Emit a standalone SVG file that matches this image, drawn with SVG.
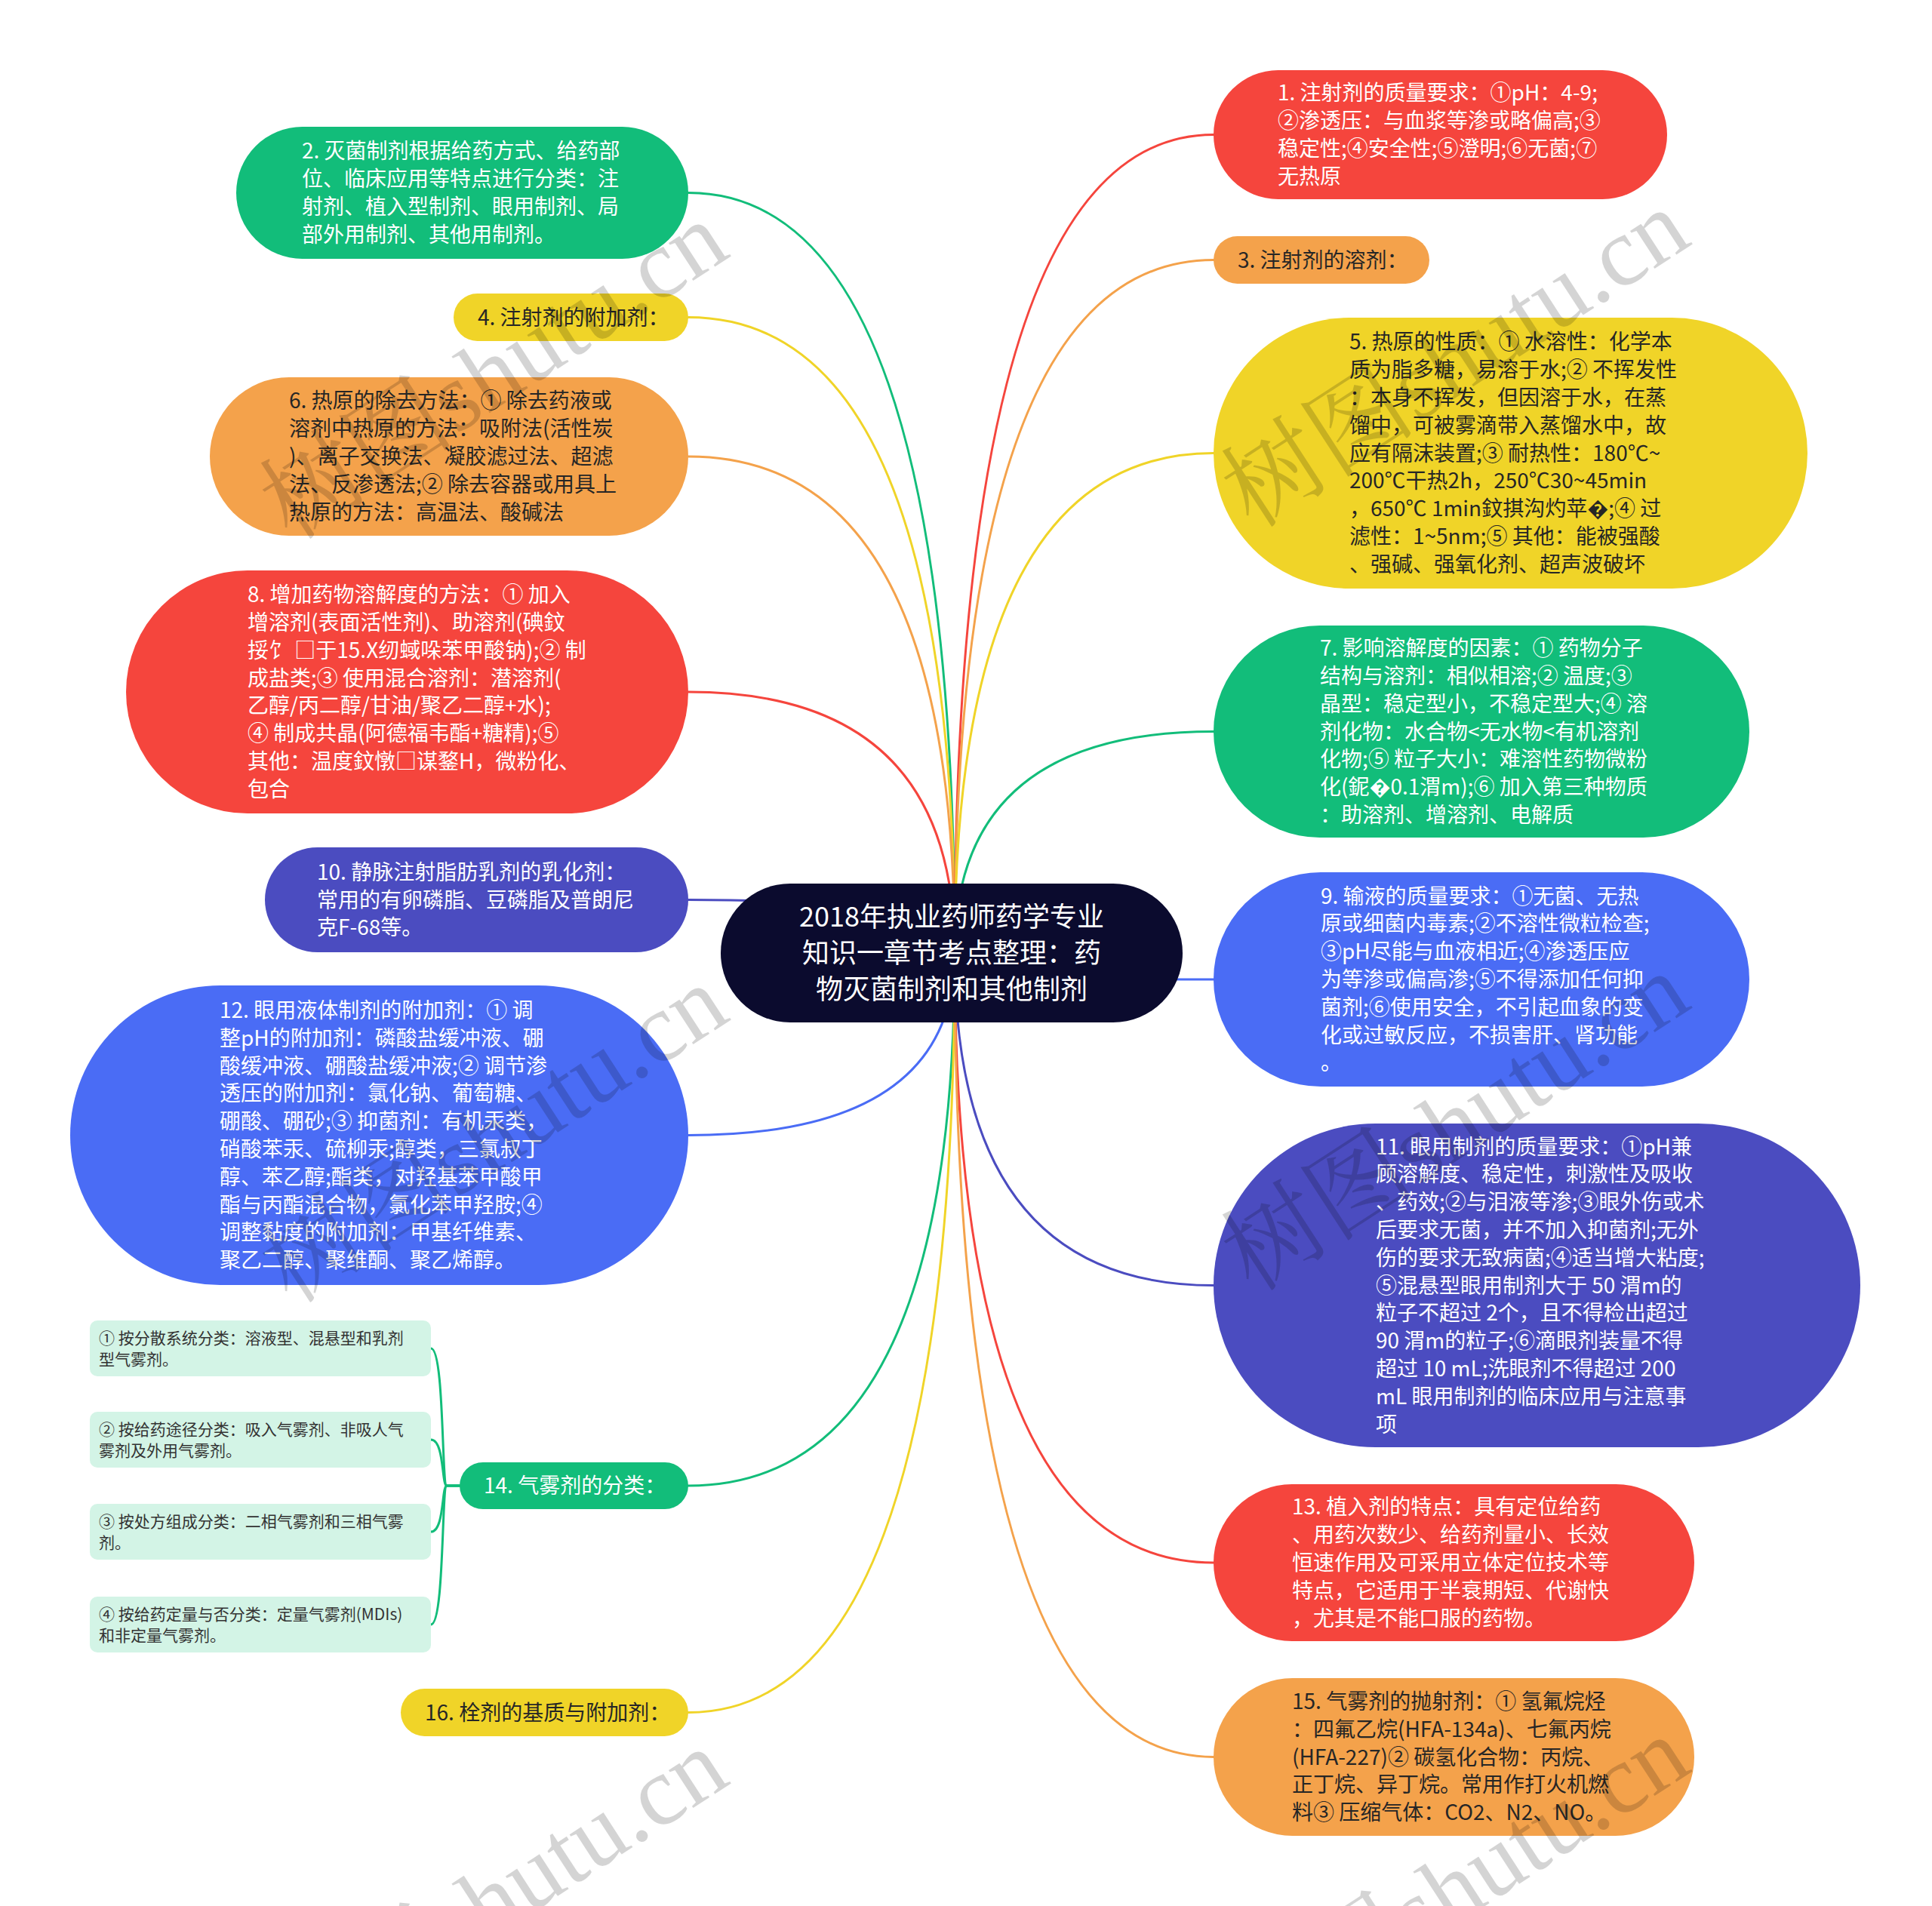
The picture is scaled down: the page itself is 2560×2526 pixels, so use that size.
<svg xmlns="http://www.w3.org/2000/svg" width="2560" height="2526" viewBox="0 0 2560 2526">
<style>
.conn path{fill:none;stroke-width:3;stroke-linecap:round}
.t{font-family:"Noto Sans CJK SC","Noto Sans",sans-serif;font-size:28px}
.c{font-family:"Noto Sans CJK SC","Noto Sans",sans-serif;font-size:36px;fill:#fff;text-anchor:middle}
.s{font-family:"Noto Sans CJK SC","Noto Sans",sans-serif;font-size:21px;fill:#333}
.w{fill:#fff}
.d{fill:#262626}
.red{fill:#f5453d}.org{fill:#f4a24b}.yel{fill:#f0d428}.grn{fill:#12bd7a}.blu{fill:#4a6cf5}.ind{fill:#4b4cc0}
.mint{fill:#d3f4e6}
.wm{font-family:"Liberation Serif","Noto Serif CJK SC","Noto Sans CJK SC",serif;font-size:130px;fill:#000;fill-opacity:0.17}
</style>
<rect width="2560" height="2526" fill="#fff"/>
<g id="connectors" class="conn">
<path d="M1265 1263 Q1265 255.5 912 255.5" stroke="#12bd7a"/>
<path d="M1265 1263 Q1265 420.5 912 420.5" stroke="#f0d428"/>
<path d="M1265 1263 Q1265 605 912 605" stroke="#f4a24b"/>
<path d="M1265 1263 Q1265 917 912 917" stroke="#f5453d"/>
<path d="M1265 1263 Q1265 1192.5 912 1192.5" stroke="#4b4cc0"/>
<path d="M1265 1263 Q1265 1504.5 912 1504.5" stroke="#4a6cf5"/>
<path d="M1265 1263 Q1265 1969 912 1969" stroke="#12bd7a"/>
<path d="M1265 1263 Q1265 2269.5 912 2269.5" stroke="#f0d428"/>
<path d="M1265 1263 Q1265 178.5 1608 178.5" stroke="#f5453d"/>
<path d="M1265 1263 Q1265 344.5 1608 344.5" stroke="#f4a24b"/>
<path d="M1265 1263 Q1265 600.5 1608 600.5" stroke="#f0d428"/>
<path d="M1265 1263 Q1265 969.5 1608 969.5" stroke="#12bd7a"/>
<path d="M1265 1263 Q1265 1298 1608 1298" stroke="#4a6cf5"/>
<path d="M1265 1263 Q1265 1703.5 1608 1703.5" stroke="#4b4cc0"/>
<path d="M1265 1263 Q1265 2071 1608 2071" stroke="#f5453d"/>
<path d="M1265 1263 Q1265 2328.5 1608 2328.5" stroke="#f4a24b"/>
<path d="M609 1969 H592 C585 1969 589 1787 571 1787" stroke="#12bd7a"/>
<path d="M609 1969 H592 C585 1969 589 1908 571 1908" stroke="#12bd7a"/>
<path d="M609 1969 H592 C585 1969 589 2030 571 2030" stroke="#12bd7a"/>
<path d="M609 1969 H592 C585 1969 589 2153 571 2153" stroke="#12bd7a"/>
</g>
<g id="center">
<rect x="955" y="1171" width="612" height="184" rx="92" fill="#0b0b2e"/>
<text class="c" x="1261" y="1228"><tspan x="1261">2018年执业药师药学专业</tspan><tspan x="1261" dy="48">知识一章节考点整理：药</tspan><tspan x="1261" dy="48">物灭菌制剂和其他制剂</tspan></text>
</g>
<g id="n1">
<rect class="red" x="1608" y="93" width="601" height="171" rx="85.5"/>
<text class="t w" x="1693" y="133.3"><tspan x="1693">1. 注射剂的质量要求：①pH：4-9;</tspan><tspan x="1693" dy="36.8">②渗透压：与血浆等渗或略偏高;③</tspan><tspan x="1693" dy="36.8">稳定性;④安全性;⑤澄明;⑥无菌;⑦</tspan><tspan x="1693" dy="36.8">无热原</tspan></text>
</g>
<g id="n2">
<rect class="grn" x="313" y="168" width="599" height="175" rx="87.5"/>
<text class="t w" x="400" y="210.3"><tspan x="400">2. 灭菌制剂根据给药方式、给药部</tspan><tspan x="400" dy="36.8">位、临床应用等特点进行分类：注</tspan><tspan x="400" dy="36.8">射剂、植入型制剂、眼用制剂、局</tspan><tspan x="400" dy="36.8">部外用制剂、其他用制剂。</tspan></text>
</g>
<g id="n3">
<rect class="org" x="1608" y="313" width="286" height="63" rx="31.5"/>
<text class="t d" x="1640" y="354.5">3. 注射剂的溶剂：</text>
</g>
<g id="n4">
<rect class="yel" x="601" y="389" width="311" height="63" rx="31.5"/>
<text class="t d" x="633" y="430.5">4. 注射剂的附加剂：</text>
</g>
<g id="n5">
<rect class="yel" x="1608" y="421" width="787" height="359" rx="179.5"/>
<text class="t d" x="1788" y="463.3"><tspan x="1788">5. 热原的性质：① 水溶性：化学本</tspan><tspan x="1788" dy="36.8">质为脂多糖，易溶于水;② 不挥发性</tspan><tspan x="1788" dy="36.8">：本身不挥发，但因溶于水，在蒸</tspan><tspan x="1788" dy="36.8">馏中，可被雾滴带入蒸馏水中，故</tspan><tspan x="1788" dy="36.8">应有隔沫装置;③ 耐热性：180℃~</tspan><tspan x="1788" dy="36.8">200℃干热2h，250℃30~45min</tspan><tspan x="1788" dy="36.8">，650℃ 1min鈫掑沟灼苹�;④ 过</tspan><tspan x="1788" dy="36.8">滤性：1~5nm;⑤ 其他：能被强酸</tspan><tspan x="1788" dy="36.8">、强碱、强氧化剂、超声波破坏</tspan></text>
</g>
<g id="n6">
<rect class="org" x="278" y="500" width="634" height="210" rx="105"/>
<text class="t d" x="383" y="541.4"><tspan x="383">6. 热原的除去方法：① 除去药液或</tspan><tspan x="383" dy="36.8">溶剂中热原的方法：吸附法(活性炭</tspan><tspan x="383" dy="36.8">)、离子交换法、凝胶滤过法、超滤</tspan><tspan x="383" dy="36.8">法、反渗透法;② 除去容器或用具上</tspan><tspan x="383" dy="36.8">热原的方法：高温法、酸碱法</tspan></text>
</g>
<g id="n7">
<rect class="grn" x="1608" y="829" width="710" height="281" rx="140.5"/>
<text class="t w" x="1749" y="869.1"><tspan x="1749">7. 影响溶解度的因素：① 药物分子</tspan><tspan x="1749" dy="36.8">结构与溶剂：相似相溶;② 温度;③</tspan><tspan x="1749" dy="36.8">晶型：稳定型小，不稳定型大;④ 溶</tspan><tspan x="1749" dy="36.8">剂化物：水合物&lt;无水物&lt;有机溶剂</tspan><tspan x="1749" dy="36.8">化物;⑤ 粒子大小：难溶性药物微粉</tspan><tspan x="1749" dy="36.8">化(鈮�0.1渭m);⑥ 加入第三种物质</tspan><tspan x="1749" dy="36.8">：助溶剂、增溶剂、电解质</tspan></text>
</g>
<g id="n8">
<rect class="red" x="167" y="756" width="745" height="322" rx="161"/>
<text class="t w" x="328" y="798.2"><tspan x="328">8. 增加药物溶解度的方法：① 加入</tspan><tspan x="328" dy="36.8">增溶剂(表面活性剂)、助溶剂(碘鈫</tspan><tspan x="328" dy="36.8">挼饣 □于15.X纫蜮哚苯甲酸钠);② 制</tspan><tspan x="328" dy="36.8">成盐类;③ 使用混合溶剂：潜溶剂(</tspan><tspan x="328" dy="36.8">乙醇/丙二醇/甘油/聚乙二醇+水);</tspan><tspan x="328" dy="36.8">④ 制成共晶(阿德福韦酯+糖精);⑤</tspan><tspan x="328" dy="36.8">其他：温度鈫憞□谋鍪H，微粉化、</tspan><tspan x="328" dy="36.8">包合</tspan></text>
</g>
<g id="n9">
<rect class="blu" x="1608" y="1156" width="710" height="284" rx="142"/>
<text class="t w" x="1750" y="1197.6"><tspan x="1750">9. 输液的质量要求：①无菌、无热</tspan><tspan x="1750" dy="36.8">原或细菌内毒素;②不溶性微粒检查;</tspan><tspan x="1750" dy="36.8">③pH尽能与血液相近;④渗透压应</tspan><tspan x="1750" dy="36.8">为等渗或偏高渗;⑤不得添加任何抑</tspan><tspan x="1750" dy="36.8">菌剂;⑥使用安全，不引起血象的变</tspan><tspan x="1750" dy="36.8">化或过敏反应，不损害肝、肾功能</tspan><tspan x="1750" dy="36.8">。</tspan></text>
</g>
<g id="n10">
<rect class="ind" x="351" y="1123" width="561" height="139" rx="69.5"/>
<text class="t w" x="420" y="1165.7"><tspan x="420">10. 静脉注射脂肪乳剂的乳化剂：</tspan><tspan x="420" dy="36.8">常用的有卵磷脂、豆磷脂及普朗尼</tspan><tspan x="420" dy="36.8">克F-68等。</tspan></text>
</g>
<g id="n11">
<rect class="ind" x="1608" y="1489" width="857" height="429" rx="214.5"/>
<text class="t w" x="1823" y="1529.5"><tspan x="1823">11. 眼用制剂的质量要求：①pH兼</tspan><tspan x="1823" dy="36.8">顾溶解度、稳定性，刺激性及吸收</tspan><tspan x="1823" dy="36.8">、药效;②与泪液等渗;③眼外伤或术</tspan><tspan x="1823" dy="36.8">后要求无菌，并不加入抑菌剂;无外</tspan><tspan x="1823" dy="36.8">伤的要求无致病菌;④适当增大粘度;</tspan><tspan x="1823" dy="36.8">⑤混悬型眼用制剂大于 50 渭m的</tspan><tspan x="1823" dy="36.8">粒子不超过 2个，且不得检出超过</tspan><tspan x="1823" dy="36.8">90 渭m的粒子;⑥滴眼剂装量不得</tspan><tspan x="1823" dy="36.8">超过 10 mL;洗眼剂不得超过 200</tspan><tspan x="1823" dy="36.8">mL 眼用制剂的临床应用与注意事</tspan><tspan x="1823" dy="36.8">项</tspan></text>
</g>
<g id="n12">
<rect class="blu" x="93" y="1306" width="819" height="397" rx="198.5"/>
<text class="t w" x="291" y="1348.9"><tspan x="291">12. 眼用液体制剂的附加剂：① 调</tspan><tspan x="291" dy="36.8">整pH的附加剂：磷酸盐缓冲液、硼</tspan><tspan x="291" dy="36.8">酸缓冲液、硼酸盐缓冲液;② 调节渗</tspan><tspan x="291" dy="36.8">透压的附加剂：氯化钠、葡萄糖、</tspan><tspan x="291" dy="36.8">硼酸、硼砂;③ 抑菌剂：有机汞类，</tspan><tspan x="291" dy="36.8">硝酸苯汞、硫柳汞;醇类，三氯叔丁</tspan><tspan x="291" dy="36.8">醇、苯乙醇;酯类，对羟基苯甲酸甲</tspan><tspan x="291" dy="36.8">酯与丙酯混合物，氯化苯甲羟胺;④</tspan><tspan x="291" dy="36.8">调整黏度的附加剂：甲基纤维素、</tspan><tspan x="291" dy="36.8">聚乙二醇、聚维酮、聚乙烯醇。</tspan></text>
</g>
<g id="n13">
<rect class="red" x="1608" y="1967" width="637" height="208" rx="104"/>
<text class="t w" x="1712" y="2007.4"><tspan x="1712">13. 植入剂的特点：具有定位给药</tspan><tspan x="1712" dy="36.8">、用药次数少、给药剂量小、长效</tspan><tspan x="1712" dy="36.8">恒速作用及可采用立体定位技术等</tspan><tspan x="1712" dy="36.8">特点，它适用于半衰期短、代谢快</tspan><tspan x="1712" dy="36.8">，尤其是不能口服的药物。</tspan></text>
</g>
<g id="n14">
<rect class="grn" x="609" y="1938" width="303" height="62" rx="31"/>
<text class="t w" x="641" y="1979">14. 气雾剂的分类：</text>
</g>
<g id="n14-1">
<rect class="mint" x="119" y="1750" width="452" height="74" rx="10"/>
<text class="s" x="131" y="1780.5"><tspan x="131">① 按分散系统分类：溶液型、混悬型和乳剂</tspan><tspan x="131" dy="28">型气雾剂。</tspan></text>
</g>
<g id="n14-2">
<rect class="mint" x="119" y="1871" width="452" height="74" rx="10"/>
<text class="s" x="131" y="1901.5"><tspan x="131">② 按给药途径分类：吸入气雾剂、非吸人气</tspan><tspan x="131" dy="28">雾剂及外用气雾剂。</tspan></text>
</g>
<g id="n14-3">
<rect class="mint" x="119" y="1993" width="452" height="74" rx="10"/>
<text class="s" x="131" y="2023.5"><tspan x="131">③ 按处方组成分类：二相气雾剂和三相气雾</tspan><tspan x="131" dy="28">剂。</tspan></text>
</g>
<g id="n14-4">
<rect class="mint" x="119" y="2116" width="452" height="74" rx="10"/>
<text class="s" x="131" y="2146.5"><tspan x="131">④ 按给药定量与否分类：定量气雾剂(MDIs)</tspan><tspan x="131" dy="28">和非定量气雾剂。</tspan></text>
</g>
<g id="n15">
<rect class="org" x="1608" y="2224" width="637" height="209" rx="104.5"/>
<text class="t d" x="1712" y="2264.9"><tspan x="1712">15. 气雾剂的抛射剂：① 氢氟烷烃</tspan><tspan x="1712" dy="36.8">：四氟乙烷(HFA-134a)、七氟丙烷</tspan><tspan x="1712" dy="36.8">(HFA-227)② 碳氢化合物：丙烷、</tspan><tspan x="1712" dy="36.8">正丁烷、异丁烷。常用作打火机燃</tspan><tspan x="1712" dy="36.8">料③ 压缩气体：CO2、N2、NO。</tspan></text>
</g>
<g id="n16">
<rect class="yel" x="531" y="2238" width="381" height="63" rx="31.5"/>
<text class="t d" x="563" y="2279.5">16. 栓剂的基质与附加剂：</text>
</g>
<g id="watermarks">
<text class="wm" x="386" y="718" transform="rotate(-33 386 718)">树图shutu.cn</text>
<text class="wm" x="1660" y="702" transform="rotate(-33 1660 702)">树图shutu.cn</text>
<text class="wm" x="386" y="1730" transform="rotate(-33 386 1730)">树图shutu.cn</text>
<text class="wm" x="1660" y="1714" transform="rotate(-33 1660 1714)">树图shutu.cn</text>
<text class="wm" x="386" y="2742" transform="rotate(-33 386 2742)">树图shutu.cn</text>
<text class="wm" x="1660" y="2726" transform="rotate(-33 1660 2726)">树图shutu.cn</text>
</g>
</svg>
